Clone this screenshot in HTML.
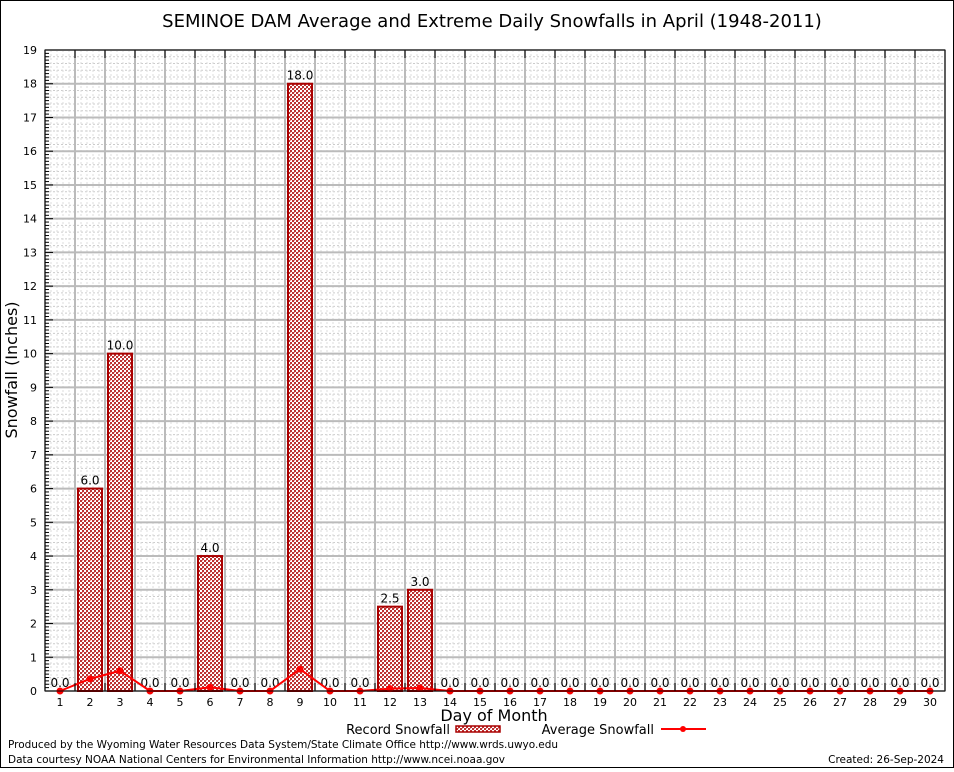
<!DOCTYPE html>
<html><head><meta charset="utf-8"><style>
body{margin:0;background:#fff;font-family:"DejaVu Sans","Liberation Sans",sans-serif}
svg text{font-family:"DejaVu Sans","Liberation Sans",sans-serif}
</style></head><body>
<svg id="chart" width="954" height="768" xmlns="http://www.w3.org/2000/svg">
<defs>
<pattern id="hatch" width="4" height="4" patternUnits="userSpaceOnUse"><rect width="4" height="4" fill="#fff"/><rect width="2" height="2" fill="#b33"/><rect x="2" y="2" width="2" height="2" fill="#b33"/><rect x="2" y="0" width="1" height="1" fill="#e99"/></pattern>
</defs>
<rect x="0.5" y="0.5" width="953" height="767" fill="#fff" stroke="#000"/>
<text x="492" y="27" font-size="18" text-anchor="middle">SEMINOE DAM Average and Extreme Daily Snowfalls in April (1948-2011)</text>
<g id="grid"></g><g id="bars"></g><g id="line"></g><g id="axes"></g>
<text x="17" y="370" font-size="16" text-anchor="middle" transform="rotate(-90 17 370)">Snowfall (Inches)</text>
<text x="494" y="721" font-size="16" text-anchor="middle">Day of Month</text>
<g>
<text x="450" y="734" font-size="13" text-anchor="end">Record Snowfall</text>
<rect x="456" y="726" width="44" height="6" fill="url(#hatch)" stroke="#a00" stroke-width="1.5"/></g>
<g>
<text x="654" y="734" font-size="13" text-anchor="end">Average Snowfall</text>
<line x1="661" y1="729" x2="706" y2="729" stroke="red" stroke-width="2"/><circle cx="683" cy="729" r="3" fill="red"/></g>
<text x="8" y="748" font-size="10.5" textLength="550">Produced by the Wyoming Water Resources Data System/State Climate Office http://www.wrds.uwyo.edu</text>
<text x="8" y="763" font-size="10.5" textLength="497">Data courtesy NOAA National Centers for Environmental Information http://www.ncei.noaa.gov</text>
<text x="944" y="763" font-size="10.5" text-anchor="end">Created: 26-Sep-2024</text>
</svg>
<script>
const days=[1,2,3,4,5,6,7,8,9,10,11,12,13,14,15,16,17,18,19,20,21,22,23,24,25,26,27,28,29,30];
const recordSnow=[0,6,10,0,0,4,0,0,18,0,0,2.5,3,0,0,0,0,0,0,0,0,0,0,0,0,0,0,0,0,0];
const avgSnow=[0,0.36,0.6,0,0,0.11,0,0,0.65,0,0,0.07,0.09,0,0,0,0,0,0,0,0,0,0,0,0,0,0,0,0,0];
const yTicks=[0,1,2,3,4,5,6,7,8,9,10,11,12,13,14,15,16,17,18,19];
const L=45,R=945,T=50,B=691,YMAX=19;
const xs=d=>L+(d-0.5)*(R-L)/30;
const ys=v=>B-v*(B-T)/YMAX;
const NS="http://www.w3.org/2000/svg";
function mk(tag,attrs,parent,txt){const e=document.createElementNS(NS,tag);for(const k in attrs)e.setAttribute(k,attrs[k]);if(txt!==undefined)e.textContent=txt;parent.appendChild(e);return e;}
const grid=document.getElementById('grid'),bars=document.getElementById('bars'),line=document.getElementById('line'),axes=document.getElementById('axes');
const bg=mk('rect',{x:L,y:T,width:R-L,height:B-T,fill:'#fff'},grid);


for(let v=0;v<YMAX;v+=0.2){const y=ys(v);mk('line',{x1:L,x2:R,y1:y,y2:y,stroke:'#ccc','stroke-width':1,'stroke-dasharray':'2,2'},grid);}
for(let d=0.5;d<=30.5;d+=0.2){const x=xs(d);mk('line',{x1:x,x2:x,y1:T,y2:B,stroke:'#ddd','stroke-width':1,'stroke-dasharray':'2,2'},grid);}
yTicks.forEach(v=>{const y=ys(v);mk('line',{x1:L,x2:R,y1:y,y2:y,stroke:'#bbb','stroke-width':2},grid);
const t=mk('text',{x:L-8,y:y+4,'font-size':11,'text-anchor':'end','font-family':'Liberation Serif, serif'},axes,String(v));


mk('line',{x1:L,x2:L+8,y1:y,y2:y,stroke:'#000'},axes);
if(v<YMAX)for(let k=1;k<10;k++){const yy=ys(v+k/10);mk('line',{x1:L,x2:L+4,y1:yy,y2:yy,stroke:'#000'},axes);}});
for(let k=0;k<=30;k++){const x=L+k*30;mk('line',{x1:x,x2:x,y1:T,y2:B,stroke:'#bbb','stroke-width':2},grid);mk('line',{x1:x,x2:x,y1:T,y2:T+8,stroke:'#000'},axes);mk('line',{x1:x,x2:x,y1:B,y2:B-8,stroke:'#000'},axes);}
mk('rect',{x:L,y:T,width:R-L,height:B-T,fill:'none',stroke:'#000'},axes);
days.forEach((d,i)=>{const v=recordSnow[i],x=xs(d);
if(v>0){const b=mk('rect',{x:x-12,y:ys(v),width:24,height:B-ys(v),fill:'url(#hatch)',stroke:'#a00','stroke-width':2},bars);

}
const lb=mk('text',{x:x,y:ys(v)-4,'font-size':12,'text-anchor':'middle'},bars,v.toFixed(1));


const tl=mk('text',{x:x,y:B+15,'font-size':11,'text-anchor':'middle','font-family':'Liberation Serif, serif'},axes,String(d));

});
const pts=days.map((d,i)=>xs(d)+','+ys(avgSnow[i])).join(' ');
const pl=mk('polyline',{points:pts,fill:'none',stroke:'red','stroke-width':2},line);


days.forEach((d,i)=>{const c=mk('circle',{cx:xs(d),cy:ys(avgSnow[i]),r:3.5,fill:'red'},line);

});
</script>
</body></html>
